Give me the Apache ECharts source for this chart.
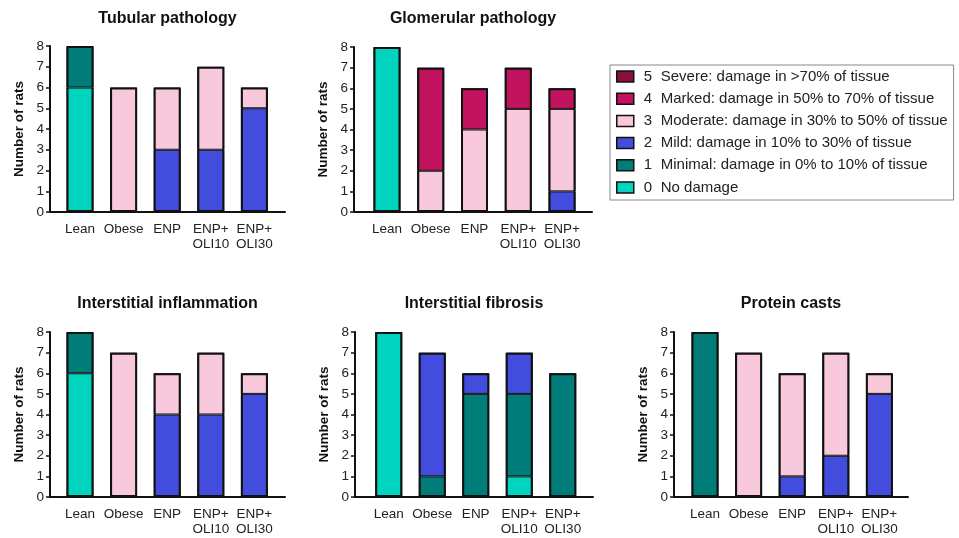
<!DOCTYPE html>
<html><head><meta charset="utf-8">
<script src="https://cdn.jsdelivr.net/npm/echarts@6/dist/echarts.min.js"></script>
<style>html,body{margin:0;padding:0;background:#fff}#c{width:959px;height:538px}</style>
</head><body><div id="c"></div>
<script>
// ---- data ----
const categories = ['Lean', 'Obese', 'ENP', 'ENP+\nOLI10', 'ENP+\nOLI30'];
const gradeNames = [
  '0 No damage',
  '1 Minimal: damage in 0% to 10% of tissue',
  '2 Mild: damage in 10% to 30% of tissue',
  '3 Moderate: damage in 30% to 50% of tissue',
  '4 Marked: damage in 50% to 70% of tissue',
  '5 Severe: damage in >70% of tissue'
];
const panelTitles = ['Tubular pathology', 'Glomerular pathology', 'Interstitial inflammation', 'Interstitial fibrosis', 'Protein casts'];
const yAxisName = 'Number of rats';
// number of rats per grade (rows: grade 0..5), columns follow categories
const tubular      = [[6,0,0,0,0],[2,0,0,0,0],[0,0,3,3,5],[0,6,3,4,1],[0,0,0,0,0],[0,0,0,0,0]];
const glomerular   = [[8,0,0,0,0],[0,0,0,0,0],[0,0,0,0,1],[0,2,4,5,4],[0,5,2,2,1],[0,0,0,0,0]];
const inflammation = [[6,0,0,0,0],[2,0,0,0,0],[0,0,4,4,5],[0,7,2,3,1],[0,0,0,0,0],[0,0,0,0,0]];
const fibrosis     = [[8,0,0,1,0],[0,1,5,4,6],[0,6,1,2,0],[0,0,0,0,0],[0,0,0,0,0],[0,0,0,0,0]];
const casts        = [[0,0,0,0,0],[8,0,0,0,0],[0,0,1,2,5],[0,7,5,5,1],[0,0,0,0,0],[0,0,0,0,0]];
const yMin = 0, yMax = 8, yStep = 1;

// ---- styles / layout ----
const gradeColors = ['#00D4BF', '#007D78', '#424DDD', '#F8C8DC', '#C2135F', '#85103F'];
const panelData = [tubular, glomerular, inflammation, fibrosis, casts];
// axis frame (left/width) and bar band area (bandLeft/bandWidth)
const layout = [
  {left: 50,  top: 46,  width: 235, height: 166, bandLeft: 58.2,  bandWidth: 218,   tx: 167.5, ty: 11},
  {left: 354, top: 47,  width: 238, height: 165, bandLeft: 365.1, bandWidth: 218.8, tx: 473,   ty: 11},
  {left: 50,  top: 332, width: 235, height: 165, bandLeft: 58.2,  bandWidth: 218,   tx: 167.5, ty: 296},
  {left: 355, top: 332, width: 238, height: 165, bandLeft: 367,   bandWidth: 217.5, tx: 474,   ty: 296},
  {left: 674, top: 332, width: 234, height: 165, bandLeft: 683.2, bandWidth: 218,   tx: 791,   ty: 296}
];
const FONT = '"Liberation Sans", Arial, sans-serif';
const ink = '#111';

const grids = [], xAxes = [], yAxes = [], titles = [], series = [];
layout.forEach((L, p) => {
  const gFrame = 2 * p, gBars = 2 * p + 1;
  grids.push({left: L.left, top: L.top, width: L.width, height: L.height});
  grids.push({left: L.bandLeft, top: L.top, width: L.bandWidth, height: L.height});
  titles.push({text: panelTitles[p], left: L.tx, top: L.ty, textAlign: 'center', padding: 0,
    textStyle: {fontFamily: FONT, fontSize: 16, fontWeight: 'bold', color: ink}});
  xAxes.push({type: 'value', gridIndex: gFrame, min: 0, max: 1,
    axisLine: {show: true, onZero: false, lineStyle: {color: ink, width: 2}},
    axisTick: {show: false}, axisLabel: {show: false}, splitLine: {show: false}});
  yAxes.push({type: 'value', gridIndex: gFrame, min: yMin, max: yMax, interval: yStep,
    name: yAxisName, nameLocation: 'middle', nameGap: 24,
    nameTextStyle: {fontFamily: FONT, fontSize: 13.5, fontWeight: 'bold', color: ink},
    axisLine: {show: true, onZero: false, lineStyle: {color: ink, width: 2}},
    axisTick: {show: true, length: 4, lineStyle: {color: ink, width: 1.5}},
    splitLine: {show: false},
    axisLabel: {margin: 6, fontFamily: FONT, fontSize: 13.5, color: '#222'}});
  xAxes.push({type: 'category', gridIndex: gBars, data: categories,
    axisLine: {show: false}, axisTick: {show: false}, splitLine: {show: false},
    axisLabel: {interval: 0, margin: 10, fontFamily: FONT, fontSize: 13.5, lineHeight: 15, color: '#222'}});
  yAxes.push({type: 'value', gridIndex: gBars, min: yMin, max: yMax, interval: yStep, show: false});
  const rows = panelData[p];
  rows.forEach((row, g) => {
    series.push({type: 'bar', name: gradeNames[g], xAxisIndex: gBars, yAxisIndex: gBars,
      stack: 'panel' + p, barWidth: 27, barGap: '-100%',
      data: row.map(v => v === 0 ? '-' : v),
      itemStyle: {color: gradeColors[g], borderColor: ink, borderWidth: 1},
      emphasis: {disabled: true}, animation: false});
  });
  // outline of each whole column (sum of its segments)
  const totals = categories.map((c, i) => rows.reduce((s, r) => s + r[i], 0));
  series.push({type: 'bar', name: 'outline' + p, xAxisIndex: gBars, yAxisIndex: gBars,
    barWidth: 27, barGap: '-100%', data: totals, silent: true,
    itemStyle: {color: 'rgba(0,0,0,0)', borderColor: ink, borderWidth: 2},
    emphasis: {disabled: true}, animation: false});
});

const chart = echarts.init(document.getElementById('c'), null, {renderer: 'canvas'});
chart.setOption({
  backgroundColor: '#fff',
  animation: false,
  title: titles,
  grid: grids, xAxis: xAxes, yAxis: yAxes, series: series,
  legend: {
    orient: 'vertical', left: 610, top: 65,
    data: gradeNames.slice().reverse(),
    selectedMode: false,
    padding: [4, 6, 5, 6],
    itemWidth: 17, itemHeight: 11, itemGap: 7.2,
    borderColor: '#888', borderWidth: 1,
    icon: 'rect',
    itemStyle: {borderWidth: 1.5, borderColor: ink},
    formatter: name => '{n|' + name.slice(0, 1) + '}{t|' + name.slice(2) + '}',
    textStyle: {fontFamily: FONT, fontSize: 15, color: '#222', lineHeight: 15,
      rich: {n: {width: 17, padding: [0, 0, 0, 5], fontFamily: FONT, fontSize: 15, lineHeight: 15, color: '#222'},
             t: {fontFamily: FONT, fontSize: 15, lineHeight: 15, color: '#222'}}}
  }
});
</script></body></html>
